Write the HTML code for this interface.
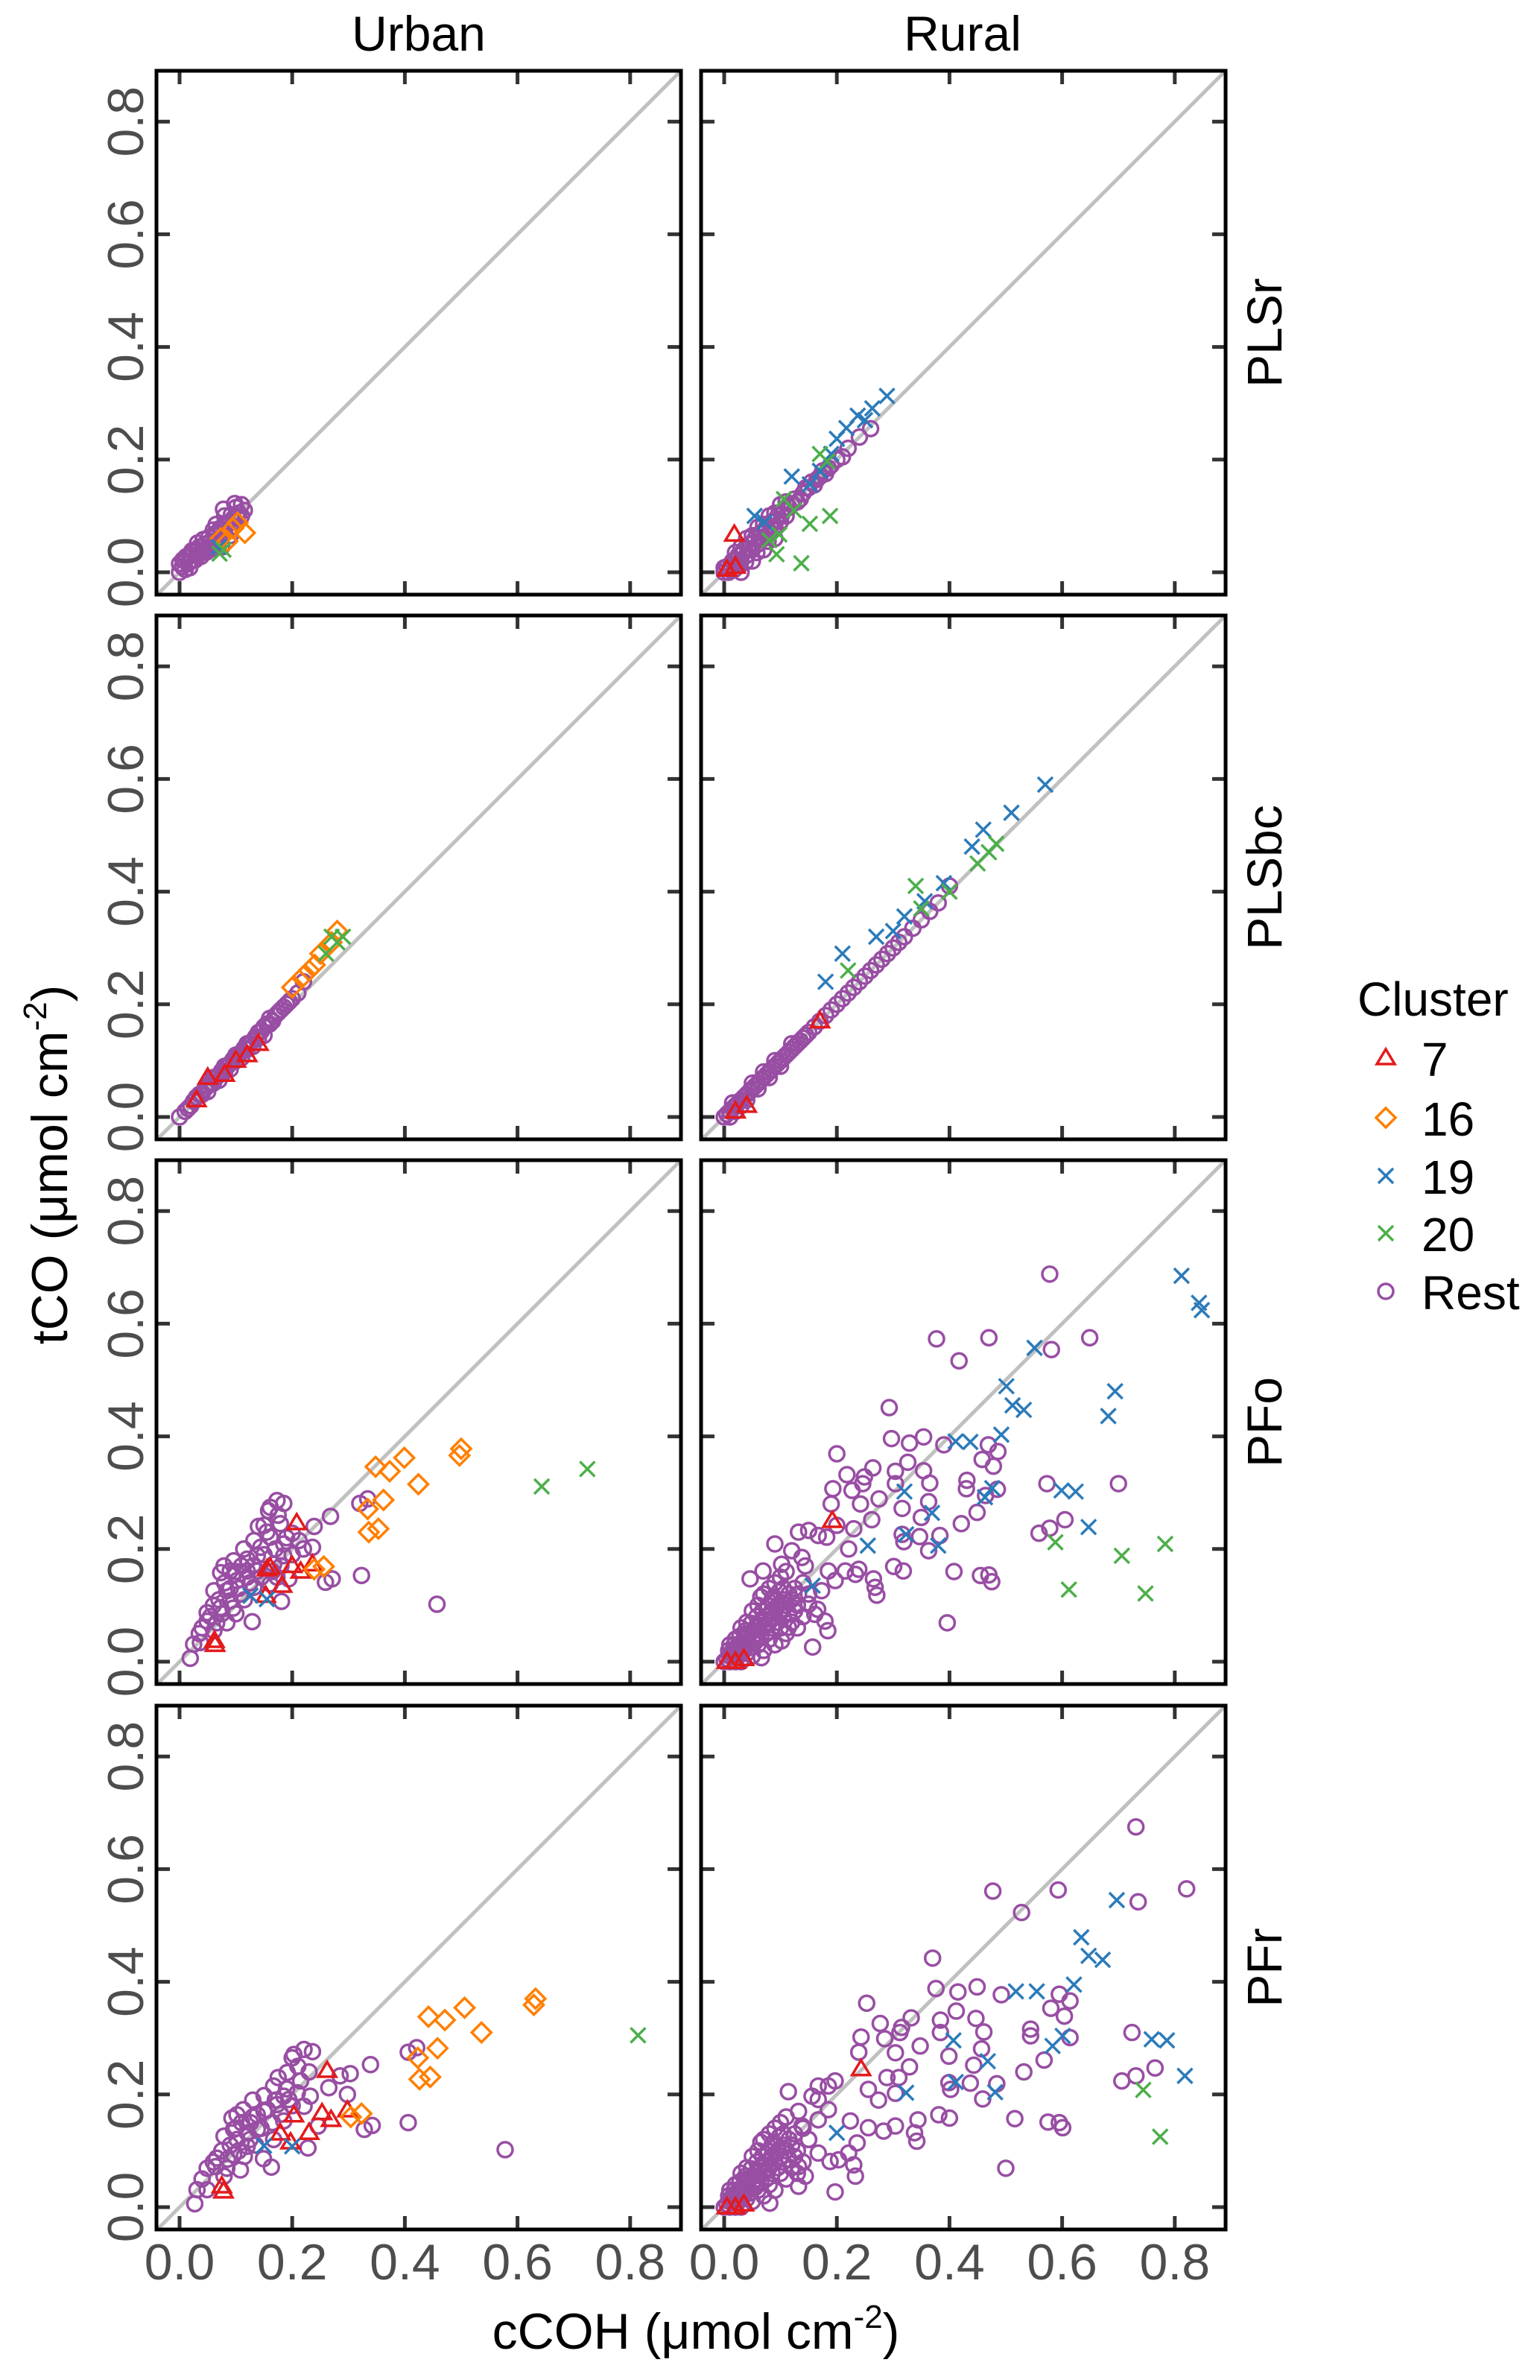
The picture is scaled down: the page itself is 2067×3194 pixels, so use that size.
<!DOCTYPE html>
<html><head><meta charset="utf-8"><style>
html,body{margin:0;padding:0;background:#fff;}
svg text{font-family:"Liberation Sans",Arial,sans-serif;}
</style></head><body>
<svg id="chart" width="2067" height="3189" viewBox="0 0 2067 3189" xmlns="http://www.w3.org/2000/svg">
<defs></defs>
<text x="562" y="68" font-size="66" text-anchor="middle">Urban</text>
<text x="1292" y="68" font-size="66" text-anchor="middle">Rural</text>
<text transform="translate(90,1563) rotate(-90)" font-size="68" text-anchor="middle">tCO (μmol  cm<tspan dy="-28" font-size="44">-2</tspan><tspan dy="28">)</tspan></text>
<text x="934" y="3152" font-size="68" text-anchor="middle">cCOH (μmol  cm<tspan dy="-28" font-size="44">-2</tspan><tspan dy="28">)</tspan></text>
<g id="legend">
<text x="1822" y="1363" font-size="64">Cluster</text>
</g>
<g id="panels"></g>
</svg>
<script>
// ---------- data ----------
const rowNames = ["PLSr","PLSbc","PFo","PFr"];
const colNames = ["Urban","Rural"];
const tickValues = [0,0.2,0.4,0.6,0.8];
const tickLabels = ["0.0","0.2","0.4","0.6","0.8"];
const clusterNames = ["7","16","19","20","Rest"];

// Row 1 PLSr
const r1u_rest = [[0.0,0.0],[0.005,0.01],[0.01,0.02],[0.015,0.015],[0.02,0.03],[0.025,0.035],[0.03,0.03],[0.035,0.045],[0.04,0.04],[0.045,0.05],[0.05,0.045],[0.055,0.055],[0.06,0.05],[0.065,0.065],[0.07,0.06],[0.075,0.075],[0.08,0.07],[0.085,0.085],[0.09,0.08],[0.095,0.095],[0.1,0.09],[0.105,0.105],[0.11,0.1],[0.115,0.11],[0.08,0.1],[0.11,0.12],[0.1,0.115],[0.065,0.085],[0.06,0.075],[0.09,0.065],[0.075,0.045],[0.0,0.015],[0.01,0.005],[0.02,0.02],[0.03,0.04],[0.04,0.035],[0.012,0.028],[0.022,0.038],[0.032,0.052],[0.042,0.058],[0.052,0.062],[0.062,0.068],[0.072,0.078],[0.082,0.082],[0.092,0.102],[0.102,0.098],[0.078,0.112],[0.098,0.122],[0.006,0.022],[0.018,0.008],[0.028,0.022],[0.038,0.028],[0.048,0.036],[0.058,0.042],[0.068,0.048]];
const r1u_c7 = [];
const r1u_c16 = [[0.103,0.088],[0.116,0.07],[0.073,0.06],[0.085,0.055],[0.095,0.078]];
const r1u_c19 = [[0.07,0.045]];
const r1u_c20 = [[0.071,0.033],[0.078,0.04]];

const r1r_rest = [[0.0,0.0],[0.005,0.01],[0.01,0.005],[0.015,0.02],[0.02,0.015],[0.025,0.03],[0.03,0.02],[0.035,0.04],[0.04,0.03],[0.045,0.05],[0.05,0.04],[0.055,0.06],[0.06,0.05],[0.065,0.07],[0.07,0.06],[0.075,0.08],[0.08,0.07],[0.085,0.09],[0.09,0.08],[0.095,0.1],[0.1,0.09],[0.105,0.11],[0.11,0.1],[0.12,0.12],[0.13,0.125],[0.14,0.14],[0.15,0.15],[0.16,0.155],[0.17,0.17],[0.18,0.175],[0.19,0.19],[0.2,0.2],[0.21,0.205],[0.22,0.22],[0.24,0.24],[0.26,0.255],[0.04,0.06],[0.06,0.08],[0.08,0.1],[0.1,0.12],[0.03,0.0],[0.05,0.02],[0.07,0.04],[0.09,0.06],[0.012,0.012],[0.022,0.022],[0.032,0.032],[0.042,0.042],[0.052,0.052],[0.062,0.062],[0.072,0.072],[0.082,0.082],[0.092,0.092],[0.102,0.102],[0.115,0.115],[0.125,0.13],[0.135,0.13],[0.145,0.15],[0.155,0.16],[0.165,0.165],[0.175,0.18],[0.185,0.185],[0.02,0.035],[0.03,0.045],[0.05,0.065],[0.07,0.085],[0.09,0.105],[0.11,0.125],[0.0,0.008],[0.008,0.0],[0.018,0.005],[0.028,0.012],[0.038,0.018],[0.058,0.035],[0.078,0.055]];
const r1r_c7 = [[0.018,0.067],[0.005,0.005],[0.02,0.01]];
const r1r_c16 = [];
const r1r_c19 = [[0.12,0.17],[0.2,0.237],[0.217,0.256],[0.237,0.278],[0.263,0.291],[0.289,0.313],[0.19,0.21],[0.17,0.18],[0.152,0.156],[0.054,0.1],[0.072,0.089],[0.25,0.27]];
const r1r_c20 = [[0.106,0.13],[0.124,0.11],[0.098,0.067],[0.137,0.016],[0.08,0.057],[0.188,0.1],[0.17,0.21],[0.183,0.197],[0.152,0.086],[0.093,0.032]];

// Row 2 PLSbc
const r2u_rest = [[0.0,0.0],[0.01,0.01],[0.02,0.02],[0.03,0.035],[0.04,0.04],[0.05,0.055],[0.06,0.06],[0.07,0.075],[0.08,0.08],[0.09,0.095],[0.1,0.1],[0.11,0.115],[0.12,0.12],[0.13,0.135],[0.14,0.14],[0.15,0.16],[0.16,0.165],[0.17,0.18],[0.18,0.19],[0.19,0.2],[0.2,0.21],[0.21,0.22],[0.22,0.24],[0.05,0.045],[0.07,0.065],[0.09,0.085],[0.11,0.105],[0.13,0.125],[0.15,0.145],[0.08,0.09],[0.1,0.11],[0.12,0.13],[0.14,0.15],[0.16,0.175],[0.06,0.07],[0.015,0.015],[0.025,0.028],[0.035,0.04],[0.045,0.05],[0.055,0.06],[0.065,0.07],[0.075,0.082],[0.085,0.09],[0.095,0.102],[0.105,0.11],[0.115,0.122],[0.125,0.13],[0.135,0.142],[0.145,0.152],[0.155,0.165],[0.165,0.17],[0.175,0.185],[0.185,0.195],[0.195,0.205]];
const r2u_c7 = [[0.14,0.13],[0.05,0.07],[0.03,0.03],[0.1,0.1],[0.12,0.11],[0.08,0.075]];
const r2u_c16 = [[0.2,0.23],[0.22,0.25],[0.24,0.27],[0.25,0.29],[0.27,0.31],[0.28,0.33],[0.23,0.26]];
const r2u_c19 = [];
const r2u_c20 = [[0.27,0.32],[0.28,0.31],[0.26,0.29],[0.29,0.32]];

const r2r_rest = [[0.0,0.0],[0.005,0.005],[0.01,0.01],[0.015,0.015],[0.02,0.02],[0.025,0.025],[0.03,0.03],[0.035,0.035],[0.04,0.04],[0.045,0.045],[0.05,0.05],[0.06,0.06],[0.07,0.07],[0.08,0.08],[0.09,0.09],[0.1,0.1],[0.11,0.11],[0.12,0.12],[0.13,0.13],[0.14,0.14],[0.15,0.15],[0.16,0.16],[0.18,0.18],[0.2,0.2],[0.22,0.22],[0.24,0.24],[0.26,0.26],[0.28,0.28],[0.3,0.3],[0.32,0.32],[0.35,0.35],[0.38,0.38],[0.4,0.41],[0.02,0.01],[0.04,0.03],[0.06,0.05],[0.08,0.07],[0.1,0.09],[0.05,0.06],[0.07,0.08],[0.09,0.1],[0.12,0.13],[0.055,0.055],[0.065,0.065],[0.075,0.075],[0.085,0.085],[0.095,0.095],[0.105,0.105],[0.115,0.115],[0.125,0.125],[0.135,0.135],[0.145,0.145],[0.17,0.17],[0.19,0.19],[0.21,0.21],[0.23,0.23],[0.25,0.25],[0.27,0.27],[0.29,0.29],[0.31,0.31],[0.335,0.335],[0.365,0.365],[0.01,0.0],[0.03,0.02],[0.015,0.025]];
const r2r_c7 = [[0.17,0.17],[0.04,0.02],[0.02,0.01]];
const r2r_c16 = [];
const r2r_c19 = [[0.57,0.59],[0.46,0.51],[0.51,0.54],[0.44,0.48],[0.39,0.415],[0.356,0.383],[0.32,0.356],[0.27,0.32],[0.21,0.29],[0.18,0.24],[0.3,0.33]];
const r2r_c20 = [[0.483,0.485],[0.47,0.47],[0.34,0.41],[0.4,0.4],[0.45,0.45],[0.35,0.37],[0.22,0.26]];

// Row 3 PFo
const r3u_rest = [[0.457,0.102],[0.323,0.153],[0.32,0.281],[0.334,0.289],[0.268,0.258],[0.239,0.24],[0.236,0.203],[0.212,0.215],[0.259,0.141],[0.271,0.147],[0.181,0.107],[0.129,0.071],[0.019,0.006],
[0.161,0.274],[0.173,0.286],[0.185,0.281],[0.158,0.268],[0.15,0.242],[0.179,0.245],[0.132,0.215],[0.114,0.2],[0.144,0.203],[0.161,0.221],[0.185,0.209],[0.138,0.188],[0.12,0.182],[0.079,0.17],[0.09,0.161],[0.073,0.158],[0.102,0.144],[0.12,0.15],[0.084,0.126],[0.061,0.126],[0.108,0.12],[0.09,0.108],[0.073,0.096],[0.049,0.087],[0.049,0.072],[0.066,0.069],[0.084,0.069],[0.061,0.055],[0.025,0.031],[0.037,0.034],[0.167,0.173],[0.138,0.161],[0.12,0.161],[0.173,0.15],[0.096,0.179],[0.185,0.188],[0.194,0.147],[0.161,0.138],[0.132,0.132],[0.2,0.228],[0.105,0.13],[0.14,0.24],
[0.07,0.11],[0.08,0.14],[0.1,0.16],[0.11,0.17],[0.13,0.17],[0.15,0.19],[0.17,0.2],[0.19,0.22],[0.09,0.13],[0.06,0.1],[0.055,0.08],[0.075,0.085],[0.095,0.095],[0.115,0.11],[0.125,0.14],[0.145,0.15],[0.165,0.16],[0.04,0.06],[0.035,0.05],[0.1,0.085],[0.2,0.19],[0.22,0.2],[0.18,0.17],[0.155,0.23],[0.175,0.26]];
const r3u_c7 = [[0.208,0.246],[0.161,0.167],[0.2,0.17],[0.215,0.16],[0.236,0.173],[0.182,0.135],[0.153,0.117],[0.062,0.037],[0.063,0.03],[0.155,0.164]];
const r3u_c16 = [[0.5,0.378],[0.497,0.366],[0.399,0.362],[0.348,0.346],[0.373,0.338],[0.424,0.315],[0.362,0.287],[0.334,0.271],[0.353,0.236],[0.336,0.23],[0.256,0.169],[0.239,0.164]];
const r3u_c19 = [[0.155,0.111],[0.126,0.117]];
const r3u_c20 = [[0.643,0.311],[0.724,0.342]];

const r3r_rest = [[0.578,0.688],[0.377,0.573],[0.47,0.575],[0.649,0.575],[0.417,0.534],[0.581,0.554],[0.293,0.451],[0.297,0.396],[0.329,0.388],[0.354,0.399],[0.39,0.385],[0.469,0.385],[0.486,0.373],[0.458,0.359],[0.478,0.347],[0.2,0.369],[0.326,0.354],[0.354,0.339],[0.304,0.338],[0.264,0.344],[0.218,0.332],[0.249,0.328],[0.246,0.316],[0.365,0.317],[0.304,0.316],[0.431,0.322],[0.43,0.307],[0.485,0.306],[0.573,0.316],[0.7,0.316],[0.193,0.307],[0.227,0.304],[0.275,0.289],[0.242,0.28],[0.19,0.28],[0.316,0.272],[0.363,0.284],[0.464,0.295],[0.449,0.265],[0.35,0.256],[0.262,0.252],[0.605,0.252],[0.421,0.245],[0.578,0.237],[0.559,0.228],[0.2,0.242],[0.23,0.236],[0.316,0.226],[0.347,0.222],[0.383,0.224],[0.319,0.213],[0.363,0.197],[0.09,0.209],[0.301,0.169],[0.318,0.161],[0.408,0.16],[0.455,0.153],[0.47,0.154],[0.475,0.142],[0.265,0.147],[0.268,0.132],[0.271,0.118],[0.396,0.069],[0.157,0.026],[0.184,0.055],[0.179,0.072],[0.166,0.093],[0.239,0.164],
[0.132,0.23],[0.15,0.233],[0.167,0.224],[0.182,0.221],[0.12,0.197],[0.138,0.185],[0.144,0.17],[0.102,0.173],[0.185,0.161],[0.197,0.144],[0.173,0.126],[0.221,0.2],[0.215,0.161],[0.233,0.155],[0.102,0.093],[0.114,0.061],[0.102,0.037],[0.066,0.007],[0.046,0.147],[0.069,0.161],[0.15,0.102],[0.161,0.084],[0.132,0.12],
[0.005,0.005],[0.01,0.01],[0.015,0.02],[0.02,0.01],[0.025,0.03],[0.03,0.02],[0.035,0.04],[0.04,0.03],[0.045,0.05],[0.05,0.04],[0.055,0.06],[0.06,0.05],[0.065,0.07],[0.07,0.06],[0.075,0.08],[0.08,0.07],[0.085,0.09],[0.09,0.08],[0.095,0.1],[0.1,0.09],[0.105,0.11],[0.11,0.1],[0.115,0.12],[0.12,0.11],[0.125,0.13],[0.13,0.1],[0.06,0.1],[0.07,0.12],[0.08,0.13],[0.09,0.14],[0.1,0.15],[0.05,0.09],[0.04,0.07],[0.03,0.06],[0.02,0.04],[0.01,0.03],[0.03,0.0],[0.05,0.01],[0.07,0.02],[0.09,0.03],[0.11,0.05],[0.13,0.06],[0.14,0.08],[0.12,0.07],[0.1,0.06],[0.08,0.04],[0.06,0.03],[0.04,0.015],[0.15,0.12],[0.14,0.14],[0.11,0.16],[0.065,0.115],[0.085,0.11],[0.105,0.13],[0.125,0.09],[0.02,0.0],[0.0,0.0],[0.01,0.0],
[0.012,0.015],[0.022,0.025],[0.032,0.035],[0.042,0.045],[0.052,0.055],[0.062,0.065],[0.072,0.075],[0.082,0.085],[0.092,0.095],[0.102,0.105],[0.018,0.03],[0.028,0.045],[0.038,0.055],[0.048,0.068],[0.058,0.08],[0.068,0.09],[0.078,0.1],[0.088,0.115],[0.098,0.125],[0.025,0.01],[0.035,0.02],[0.045,0.025],[0.055,0.035],[0.065,0.045],[0.075,0.05],[0.085,0.06],[0.095,0.07],[0.105,0.08],[0.115,0.085],[0.008,0.02],[0.018,0.01],[0.028,0.02],[0.04,0.05],[0.06,0.04]];
const r3r_c7 = [[0.192,0.25],[0.005,0.0],[0.02,0.0],[0.035,0.005]];
const r3r_c16 = [];
const r3r_c19 = [[0.812,0.685],[0.843,0.637],[0.848,0.624],[0.551,0.557],[0.501,0.489],[0.512,0.455],[0.532,0.447],[0.694,0.48],[0.682,0.436],[0.492,0.403],[0.411,0.391],[0.437,0.39],[0.32,0.302],[0.476,0.308],[0.463,0.292],[0.599,0.304],[0.624,0.302],[0.369,0.264],[0.323,0.226],[0.255,0.206],[0.38,0.206],[0.647,0.239],[0.157,0.135]];
const r3r_c20 = [[0.588,0.212],[0.783,0.209],[0.706,0.188],[0.612,0.128],[0.748,0.121]];

// Row 4 PFr
const r4u_rest = [[0.578,0.102],[0.406,0.15],[0.406,0.275],[0.421,0.283],[0.339,0.253],[0.303,0.237],[0.285,0.233],[0.265,0.212],[0.298,0.2],[0.328,0.138],[0.342,0.145],[0.228,0.105],[0.163,0.071],[0.027,0.006],[0.149,0.086],
[0.203,0.271],[0.221,0.28],[0.236,0.276],[0.2,0.265],[0.191,0.239],[0.23,0.24],[0.215,0.224],[0.167,0.215],[0.15,0.198],[0.185,0.197],[0.209,0.203],[0.232,0.197],[0.173,0.182],[0.156,0.173],[0.138,0.164],[0.113,0.173],[0.093,0.158],[0.102,0.164],[0.126,0.15],[0.138,0.138],[0.079,0.126],[0.102,0.12],[0.12,0.108],[0.096,0.093],[0.066,0.087],[0.064,0.072],[0.084,0.069],[0.108,0.066],[0.079,0.055],[0.049,0.069],[0.031,0.031],[0.049,0.031],[0.167,0.12],[0.194,0.191],[0.221,0.179],[0.246,0.144],[0.12,0.132],[0.096,0.138],[0.185,0.153],[0.175,0.23],[0.13,0.19],
[0.09,0.11],[0.1,0.14],[0.11,0.15],[0.13,0.16],[0.15,0.17],[0.17,0.19],[0.19,0.21],[0.075,0.1],[0.06,0.08],[0.085,0.085],[0.105,0.1],[0.125,0.12],[0.145,0.14],[0.165,0.15],[0.18,0.165],[0.2,0.18],[0.04,0.05],[0.21,0.25],[0.115,0.09],[0.135,0.11]];
const r4u_c7 = [[0.262,0.242],[0.298,0.172],[0.253,0.167],[0.269,0.155],[0.203,0.163],[0.197,0.115],[0.23,0.132],[0.075,0.037],[0.078,0.028],[0.179,0.131]];
const r4u_c16 = [[0.632,0.37],[0.629,0.359],[0.506,0.354],[0.442,0.338],[0.471,0.332],[0.536,0.31],[0.458,0.282],[0.423,0.265],[0.445,0.231],[0.426,0.227],[0.323,0.166],[0.304,0.16]];
const r4u_c19 = [[0.2,0.108],[0.15,0.109]];
const r4u_c20 = [[0.814,0.305]];

const r4r_rest = [[0.731,0.675],[0.477,0.561],[0.593,0.563],[0.821,0.565],[0.735,0.542],[0.528,0.523],[0.37,0.442],[0.376,0.388],[0.415,0.382],[0.449,0.391],[0.492,0.377],[0.595,0.378],[0.614,0.366],[0.58,0.353],[0.604,0.339],[0.253,0.362],[0.412,0.348],[0.447,0.335],[0.384,0.332],[0.332,0.336],[0.277,0.326],[0.315,0.319],[0.312,0.31],[0.384,0.31],[0.461,0.311],[0.544,0.316],[0.544,0.304],[0.614,0.301],[0.724,0.31],[0.243,0.302],[0.285,0.299],[0.348,0.286],[0.304,0.274],[0.239,0.275],[0.457,0.281],[0.399,0.268],[0.568,0.261],[0.443,0.252],[0.329,0.249],[0.532,0.24],[0.765,0.247],[0.731,0.233],[0.706,0.224],[0.289,0.23],[0.31,0.23],[0.399,0.221],[0.437,0.22],[0.484,0.219],[0.402,0.209],[0.459,0.192],[0.304,0.202],[0.256,0.209],[0.274,0.19],[0.114,0.205],[0.381,0.164],[0.4,0.158],[0.516,0.157],[0.575,0.151],[0.595,0.15],[0.601,0.141],[0.344,0.155],[0.338,0.132],[0.342,0.117],[0.304,0.144],[0.283,0.135],[0.5,0.069],[0.197,0.027],[0.233,0.055],[0.23,0.075],[0.221,0.096],[0.236,0.114],[0.256,0.141],[0.224,0.153],[0.185,0.173],[0.167,0.191],[0.156,0.197],[0.185,0.215],[0.197,0.224],[0.167,0.215],[0.203,0.084],[0.188,0.081],[0.132,0.17],[0.167,0.155],[0.138,0.144],[0.15,0.12],[0.167,0.096],[0.132,0.072],[0.144,0.055],[0.132,0.037],[0.081,0.007],
[0.005,0.005],[0.01,0.01],[0.015,0.02],[0.02,0.01],[0.025,0.03],[0.03,0.02],[0.035,0.04],[0.04,0.03],[0.045,0.05],[0.05,0.04],[0.055,0.06],[0.06,0.05],[0.065,0.07],[0.07,0.06],[0.075,0.08],[0.08,0.07],[0.085,0.09],[0.09,0.08],[0.095,0.1],[0.1,0.09],[0.105,0.11],[0.11,0.1],[0.115,0.12],[0.12,0.11],[0.125,0.13],[0.13,0.1],[0.06,0.1],[0.07,0.12],[0.08,0.13],[0.09,0.14],[0.1,0.15],[0.05,0.09],[0.04,0.07],[0.03,0.06],[0.02,0.04],[0.01,0.03],[0.03,0.0],[0.05,0.01],[0.07,0.02],[0.09,0.03],[0.11,0.05],[0.13,0.06],[0.14,0.08],[0.12,0.07],[0.1,0.06],[0.08,0.04],[0.06,0.03],[0.04,0.015],[0.15,0.12],[0.14,0.14],[0.11,0.16],[0.065,0.115],[0.085,0.11],[0.105,0.13],[0.125,0.09],[0.02,0.0],[0.0,0.0],[0.01,0.0],
[0.012,0.015],[0.022,0.025],[0.032,0.035],[0.042,0.045],[0.052,0.055],[0.062,0.065],[0.072,0.075],[0.082,0.085],[0.092,0.095],[0.102,0.105],[0.018,0.03],[0.028,0.045],[0.038,0.055],[0.048,0.068],[0.058,0.08],[0.068,0.09],[0.078,0.1],[0.088,0.115],[0.098,0.125],[0.025,0.01],[0.035,0.02],[0.045,0.025],[0.055,0.035],[0.065,0.045],[0.075,0.05],[0.085,0.06],[0.095,0.07],[0.105,0.08],[0.115,0.085],[0.008,0.02],[0.018,0.01],[0.028,0.02],[0.04,0.05],[0.06,0.04]];
const r4r_c7 = [[0.243,0.245],[0.005,0.0],[0.02,0.0],[0.035,0.005]];
const r4r_c16 = [];
const r4r_c19 = [[0.697,0.545],[0.634,0.479],[0.647,0.446],[0.672,0.439],[0.621,0.395],[0.518,0.383],[0.555,0.383],[0.601,0.304],[0.583,0.286],[0.759,0.298],[0.786,0.296],[0.818,0.233],[0.407,0.296],[0.468,0.259],[0.411,0.222],[0.481,0.204],[0.323,0.203],[0.2,0.132]];
const r4r_c20 = [[0.744,0.208],[0.774,0.125]];

const panelData = [
  [[r1u_c7,r1u_c16,r1u_c19,r1u_c20,r1u_rest],[r1r_c7,r1r_c16,r1r_c19,r1r_c20,r1r_rest]],
  [[r2u_c7,r2u_c16,r2u_c19,r2u_c20,r2u_rest],[r2r_c7,r2r_c16,r2r_c19,r2r_c20,r2r_rest]],
  [[r3u_c7,r3u_c16,r3u_c19,r3u_c20,r3u_rest],[r3r_c7,r3r_c16,r3r_c19,r3r_c20,r3r_rest]],
  [[r4u_c7,r4u_c16,r4u_c19,r4u_c20,r4u_rest],[r4r_c7,r4r_c16,r4r_c19,r4r_c20,r4r_rest]]
];

// ---------- layout ----------
const NS = "http://www.w3.org/2000/svg";
const colLeft = [210, 941];
const rowTop = [95, 826, 1557, 2289];
const PW = 704, PH = 703;
const UNIT = 756;
const colors = ["#e41a1c","#ff7f00","#2b7bba","#4daf4a","#984ea3"];
const shapes = ["tri","dia","x","x","circle"];

function mk(tag, attrs, parent){
  const e = document.createElementNS(NS, tag);
  for (const k in attrs) e.setAttribute(k, attrs[k]);
  if (parent) parent.appendChild(e);
  return e;
}
function marker(g, shape, color, cx, cy){
  let el;
  if (shape === "circle") {
    el = mk("circle",{cx:cx,cy:cy,r:10,fill:"none",stroke:color,"stroke-width":3.5},g);
  } else if (shape === "tri") {
    el = mk("path",{d:`M${cx} ${cy-12}L${cx+12} ${cy+8}L${cx-12} ${cy+8}Z`,fill:"none",stroke:color,"stroke-width":3.5},g);
  } else if (shape === "dia") {
    el = mk("path",{d:`M${cx} ${cy-13}L${cx+13} ${cy}L${cx} ${cy+13}L${cx-13} ${cy}Z`,fill:"none",stroke:color,"stroke-width":3.5},g);
  } else {
    el = mk("path",{d:`M${cx-10} ${cy-10}L${cx+10} ${cy+10}M${cx-10} ${cy+10}L${cx+10} ${cy-10}`,fill:"none",stroke:color,"stroke-width":3.5},g);
  }
  return el;
}

const svg = document.getElementById("chart");
const panelsG = document.getElementById("panels");
const defs = svg.querySelector("defs");

for (let r = 0; r < 4; r++) {
  for (let c = 0; c < 2; c++) {
    const L = colLeft[c], T = rowTop[r], B = T + PH, R = L + PW;
    const x0 = L + 31, y0 = B - 30;
    const sx = v => x0 + v * UNIT;
    const sy = v => y0 - v * UNIT;
    const clipId = "clip" + r + "_" + c;
    const cp = mk("clipPath",{id:clipId},defs);
    mk("rect",{x:L,y:T,width:PW,height:PH},cp);
    const g = mk("g",{},panelsG);
    
    
    const inner = mk("g",{"clip-path":"url(#"+clipId+")"},g);
    const diag = mk("line",{x1:sx(-0.1),y1:sy(-0.1),x2:sx(1),y2:sy(1),stroke:"#c0c0c0","stroke-width":5},inner);
    
    
    const order = [4,0,1,2,3];
    for (const k of order) {
      const sg = mk("g",{},inner);
      
      
      for (const p of panelData[r][c][k]) {
        const m = marker(sg, shapes[k], colors[k], sx(p[0]), sy(p[1]));
        
        
      }
    }
    const tg = mk("g",{stroke:"#333","stroke-width":5},g);
    
    
    for (const t of tickValues) {
      mk("line",{x1:sx(t),y1:B,x2:sx(t),y2:B-18},tg);
      mk("line",{x1:sx(t),y1:T,x2:sx(t),y2:T+18},tg);
      mk("line",{x1:L,y1:sy(t),x2:L+18,y2:sy(t)},tg);
      mk("line",{x1:R,y1:sy(t),x2:R-18,y2:sy(t)},tg);
    }
    const frame = mk("rect",{x:L,y:T,width:PW,height:PH,fill:"none",stroke:"#000","stroke-width":5},g);
    
    
    if (c === 0) {
      tickValues.forEach((t,i) => {
        const tx = mk("text",{transform:`translate(192,${sy(t)}) rotate(-90)`,"font-size":68,"text-anchor":"middle",fill:"#4d4d4d"},g);
        tx.textContent = tickLabels[i];
        
        
      });
    }
    if (r === 3) {
      tickValues.forEach((t,i) => {
        const tx = mk("text",{x:sx(t),y:3059,"font-size":68,"text-anchor":"middle",fill:"#4d4d4d"},g);
        tx.textContent = tickLabels[i];
        
        
      });
    }
    if (c === 1) {
      const rl = mk("text",{transform:`translate(1720,${T+PH/2}) rotate(-90)`,"font-size":66,"text-anchor":"middle"},g);
      rl.textContent = rowNames[r];
      
      
    }
  }
}

const legend = document.getElementById("legend");
const legY = [1420,1500,1578,1655,1733];
clusterNames.forEach((n,i) => {
  const eg = mk("g",{},legend);
  
  
  marker(eg, shapes[i], colors[i], 1860, legY[i]);
  const t = mk("text",{x:1908,y:legY[i]+24,"font-size":64},eg);
  t.textContent = n;
});
</script>
</body></html>
